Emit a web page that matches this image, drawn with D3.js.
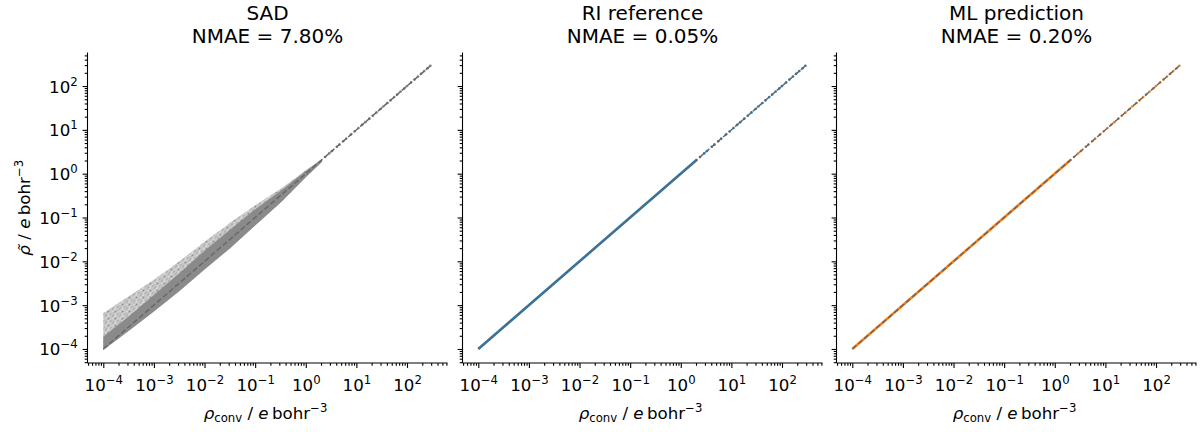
<!DOCTYPE html>
<html>
<head>
<meta charset="utf-8">
<script src="https://cdn.jsdelivr.net/npm/d3@7"></script>
<style>
  body { margin: 0; background: #fff; }
  text { font-family: "DejaVu Sans", sans-serif; fill: #000; }
</style>
</head>
<body>
<svg id="chart" width="1200" height="432"></svg>
<script>
// panel texts and colours
const panelTitles = ["SAD", "RI reference", "ML prediction"];
const panelNmae = ["7.80%", "0.05%", "0.20%"];
const panelColors = ["#7f7f7f", "#1f77b4", "#ff7f0e"];

// decade exponents used for the major tick labels
const tickExponents = [-4, -3, -2, -1, 0, 1, 2];

// y = x reference line, from smallest to largest density
const refLine = [1e-4, 300];

// RI / ML points sit on the diagonal: a dense run, then sparse values
const denseRange = [1e-4, 2.1];
const tailValues = [2.4, 2.9, 3.3, 4.1, 4.6, 5.5, 6.3, 7.8, 9.2, 11, 13, 15, 18, 21,
  25, 30, 34, 41, 47, 56, 64, 75, 88, 100, 120, 140, 165, 190, 220, 255, 290];

// SAD cloud (rho_conv -> envelope of rho tilde)
const sadX          = [1e-4,   3.2e-4, 1e-3,    3.2e-3, 1e-2,   3.2e-2, 0.1,    0.32, 1,    2.1];
const sadHaloTop    = [6.6e-4, 1.6e-3, 3.8e-3,  1.0e-2, 2.8e-2, 7.6e-2, 0.19,   0.45, 1.2,  2.2];
const sadCoreTop    = [1.9e-4, 5.6e-4, 1.7e-3,  5.4e-3, 1.75e-2, 5.3e-2, 0.155, 0.41, 1.15, 2.15];
const sadCoreBottom = [9.5e-5, 2.6e-4, 7.2e-4,  2.1e-3, 6.5e-3, 2.0e-2, 6.6e-2, 0.22, 0.83, 1.86];

const svg = d3.select("#chart");

// speckled fill for the sparse part of the SAD cloud
const defs = svg.append("defs");
const pat = defs.append("pattern")
  .attr("id", "speckle")
  .attr("patternUnits", "userSpaceOnUse")
  .attr("width", 7).attr("height", 7);
pat.append("rect").attr("width", 7).attr("height", 7).attr("fill", "#d8d8d8");
[[0, 0], [3, 1], [5, 3], [1, 4], [4, 5], [6, 6], [2, 2], [6, 0], [0, 6], [3, 4],
 [5, 1], [1, 2], [2, 6], [4, 3]].forEach(p => {
  pat.append("rect").attr("x", p[0]).attr("y", p[1])
    .attr("width", 1).attr("height", 1).attr("fill", "#8e8e8e");
});

const lefts = [87.5, 462.5, 836.5];
const plotTop = 52.5, plotW = 360, plotH = 310.5;

const x = d3.scaleLog().domain([Math.pow(10, -4.312), Math.pow(10, 2.8)]).range([0, plotW]);
const y = d3.scaleLog().domain([Math.pow(10, -4.32), Math.pow(10, 2.765)]).range([plotH, 0]);

const majors = tickExponents.map(e => Math.pow(10, e));
function minorsFor(scale) {
  const [a, b] = scale.domain();
  const out = [];
  for (let e = -5; e <= 3; e++) {
    for (let m = 2; m <= 9; m++) {
      const v = m * Math.pow(10, e);
      if (v >= a && v <= b) out.push(v);
    }
  }
  return out;
}

function powLabel(sel) {
  sel.each(function(d) {
    const t = d3.select(this);
    const e = Math.round(Math.log10(d));
    t.text(null);
    t.append("tspan").text("10");
    t.append("tspan").attr("dy", -7).attr("font-size", "11.7px")
      .text(e < 0 ? "\u2212" + (-e) : String(e));
  });
}

panelTitles.forEach((title, i) => {
  const g = svg.append("g").attr("transform", `translate(${lefts[i]},${plotTop})`);
  const color = panelColors[i];

  // data
  if (i === 0) {
    const halo = d3.area()
      .x((d, k) => x(sadX[k]))
      .y0((d, k) => y(sadCoreBottom[k]))
      .y1((d, k) => y(sadHaloTop[k]));
    g.append("path").datum(sadX).attr("d", halo).attr("fill", "url(#speckle)");
    const core = d3.area()
      .x((d, k) => x(sadX[k]))
      .y0((d, k) => y(sadCoreBottom[k]))
      .y1((d, k) => y(sadCoreTop[k]));
    g.append("path").datum(sadX).attr("d", core).attr("fill", "#8a8a8a");
  } else {
    g.append("path").datum(denseRange)
      .attr("d", d3.line().x(d => x(d)).y(d => y(d)))
      .attr("stroke", color).attr("stroke-width", 2.6).attr("fill", "none");
  }
  g.selectAll("circle.tail").data(tailValues).enter().append("circle")
    .attr("class", "tail")
    .attr("cx", d => x(d)).attr("cy", d => y(d))
    .attr("r", 1.3).attr("fill", color);

  g.append("path").datum(refLine)
    .attr("d", d3.line().x(d => x(d)).y(d => y(d)))
    .attr("stroke", "#686868")
    .attr("stroke-width", 1.5).attr("stroke-dasharray", "5.5,2.4")
    .attr("fill", "none");

  // axes
  const xMinor = g.append("g").attr("transform", `translate(0,${plotH})`)
    .call(d3.axisBottom(x).tickValues(minorsFor(x)).tickSize(2.8).tickFormat(""));
  const xMajor = g.append("g").attr("transform", `translate(0,${plotH})`)
    .call(d3.axisBottom(x).tickValues(majors).tickSize(4.9).tickPadding(4.9));
  const yMinor = g.append("g")
    .call(d3.axisLeft(y).tickValues(minorsFor(y)).tickSize(2.8).tickFormat(""));
  const yMajor = g.append("g")
    .call(d3.axisLeft(y).tickValues(majors).tickSize(4.9).tickPadding(4.9));

  [xMinor, xMajor, yMinor, yMajor].forEach(a => {
    a.selectAll("line").attr("stroke", "#000").attr("stroke-width", 1.1);
    a.select(".domain").remove();
  });

  xMajor.selectAll(".tick text")
    .attr("y", 27.5).attr("dy", 0)
    .attr("font-size", "16.67px").call(powLabel);
  if (i === 0) {
    yMajor.selectAll(".tick text")
      .attr("dy", 6).attr("font-size", "16.67px").call(powLabel);
  } else {
    yMajor.selectAll(".tick text").remove();
  }

  // spines
  g.append("line").attr("x1", 0).attr("x2", 0).attr("y1", 0).attr("y2", plotH)
    .attr("stroke", "#000").attr("stroke-width", 1.1);
  g.append("line").attr("x1", 0).attr("x2", plotW).attr("y1", plotH).attr("y2", plotH)
    .attr("stroke", "#000").attr("stroke-width", 1.1);

  // titles
  g.append("text").attr("x", plotW / 2).attr("y", 20 - plotTop)
    .attr("text-anchor", "middle").attr("font-size", "20px").text(title);
  g.append("text").attr("x", plotW / 2).attr("y", 42.5 - plotTop)
    .attr("text-anchor", "middle").attr("font-size", "20px").text("NMAE = " + panelNmae[i]);

  // x label
  const xl = g.append("text").attr("x", plotW / 2 - 2).attr("y", 419 - plotTop)
    .attr("text-anchor", "middle").attr("font-size", "16.67px");
  xl.append("tspan").attr("font-style", "italic").text("\u03c1");
  xl.append("tspan").attr("font-size", "11.7px").attr("dy", 3).text("conv");
  xl.append("tspan").attr("dy", -3).text(" / ");
  xl.append("tspan").attr("font-style", "italic").text("e");
  xl.append("tspan").text("\u2009bohr");
  xl.append("tspan").attr("font-size", "11.7px").attr("dy", -7).text("\u22123");
});

// shared y label
const yl = svg.append("text")
  .attr("transform", `translate(29.5,${plotTop + plotH / 2}) rotate(-90)`)
  .attr("text-anchor", "middle").attr("font-size", "16.67px");
yl.append("tspan").attr("font-style", "italic").text("\u03c1\u0303");
yl.append("tspan").text(" / ");
yl.append("tspan").attr("font-style", "italic").text("e");
yl.append("tspan").text("\u2009bohr");
yl.append("tspan").attr("font-size", "11.7px").attr("dy", -7).text("\u22123");
</script>
</body>
</html>
